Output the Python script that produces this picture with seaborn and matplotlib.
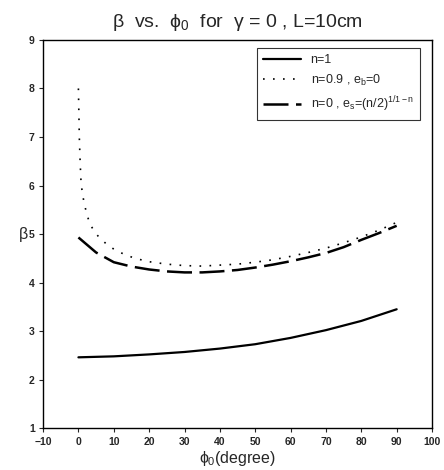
#!/usr/bin/env python3
import pandas as pd
import seaborn as sns
import matplotlib
matplotlib.use('Agg')
import matplotlib.pyplot as plt

# n = 1
phi_n1 = [0, 10, 20, 30, 40, 50, 60, 70, 80, 90]
beta_n1 = [2.46, 2.48, 2.52, 2.57, 2.64, 2.73, 2.86, 3.02, 3.21, 3.45]

# n = 0.9, e_b = 0
phi_n09 = [0, 0.25, 0.5, 0.75, 1.2, 1.8, 2.5, 3.2, 4.5, 6, 8, 10, 13, 16, 20, 25, 30,
           35, 40, 45, 50, 55, 60, 65, 70, 75, 80, 85, 90]
beta_n09 = [8.0, 7.0, 6.45, 6.05, 5.8, 5.58, 5.38, 5.22, 5.05, 4.92, 4.79, 4.69, 4.58, 4.50,
            4.43, 4.38, 4.35, 4.34, 4.36, 4.38, 4.42, 4.47, 4.54, 4.62, 4.71, 4.82, 4.94, 5.08, 5.24]

# n = 0, e_s = (n/2)^(1/1-n)
phi_n0 = [0, 5, 10, 15, 20, 25, 30, 35, 40, 45, 50, 55, 60, 65, 70, 75, 80, 85, 90]
beta_n0 = [4.93, 4.62, 4.42, 4.33, 4.27, 4.23, 4.21, 4.21, 4.23, 4.26, 4.31, 4.37, 4.44,
           4.52, 4.61, 4.73, 4.88, 5.02, 5.17]

x_ticks = list(range(-10, 101, 10))
y_ticks = list(range(1, 10))

sns.set_style('ticks')
plt.rcParams['font.family'] = ['Liberation Sans', 'DejaVu Sans']
plt.rcParams['mathtext.fontset'] = 'custom'
plt.rcParams['mathtext.rm'] = 'Liberation Sans'
plt.rcParams['mathtext.it'] = 'Liberation Sans'

fig = plt.figure(figsize=(4.44, 4.70), dpi=100)
ax = fig.add_axes([0.097, 0.089, 0.876, 0.826])

d1 = pd.DataFrame({'phi': phi_n1, 'beta': beta_n1})
d2 = pd.DataFrame({'phi': phi_n09, 'beta': beta_n09})
d3 = pd.DataFrame({'phi': phi_n0, 'beta': beta_n0})

sns.lineplot(data=d1, x='phi', y='beta', ax=ax, color='black', lw=1.6, label='n=1')
sns.lineplot(data=d2, x='phi', y='beta', ax=ax, color='black', lw=1.2,
             linestyle=(0, (1, 5)), label='n=0.9 , e$_b$=0')
sns.lineplot(data=d3, x='phi', y='beta', ax=ax, color='black', lw=1.8,
             linestyle=(0, (10, 3)), label='n=0 , e$_s$=(n/2)$^{1/1-n}$')

ax.set_xlim(-10, 100)
ax.set_ylim(1, 9)
ax.set_xticks(x_ticks)
ax.set_yticks(y_ticks)
ax.tick_params(length=3, width=0.8, labelsize=7.5, pad=3)
for lab in ax.get_xticklabels() + ax.get_yticklabels():
    lab.set_fontweight('bold')
for s in ax.spines.values():
    s.set_visible(True)
    s.set_linewidth(1.0)
    s.set_color('black')

ax.set_xlabel(r'$\phi_0$(degree)', fontsize=11.5, labelpad=2)
ax.set_ylabel('β', fontsize=11.5, rotation=0, labelpad=4, va='center')
ax.set_title(r'β  vs.  $\phi_0$  for  γ = 0 , L=10cm', fontsize=14, pad=9)

leg = ax.legend(loc='upper right', fontsize=9, frameon=True, fancybox=False,
                edgecolor='black', handlelength=3.0, borderpad=0.5,
                labelspacing=0.5, bbox_to_anchor=(0.985, 0.995))
leg.get_frame().set_linewidth(0.8)

fig.savefig('out.png', dpi=100)
